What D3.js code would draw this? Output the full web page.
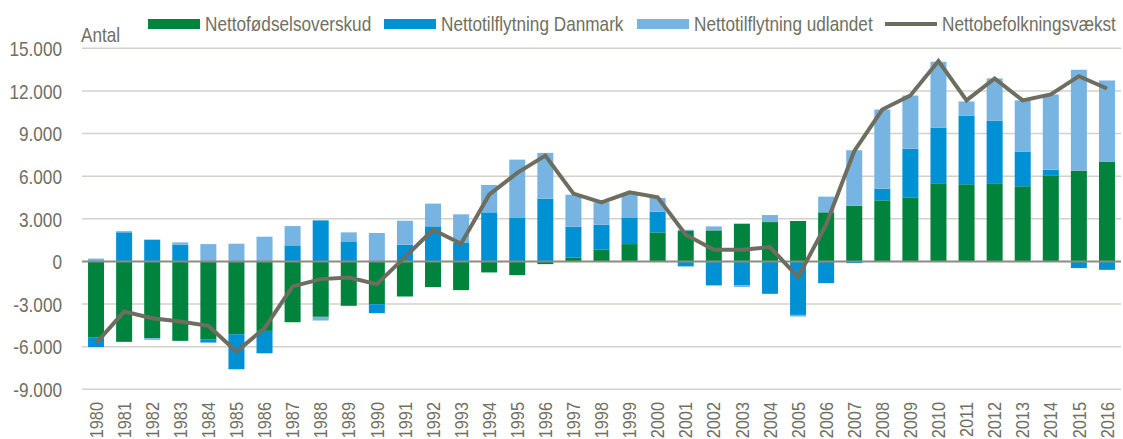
<!DOCTYPE html>
<html>
<head>
<meta charset="utf-8">
<script src="https://cdn.jsdelivr.net/npm/d3@7"></script>
<style>
  body { margin: 0; background: #fff; }
  svg text { font-family: "Liberation Sans", Arial, sans-serif; fill: #6f6f62; }
</style>
</head>
<body>
<script>
// data
var years = d3.range(1980, 2017);
var foedsel = [-5330, -5660, -5400, -5590, -5475, -5120, -4890, -4280, -3900, -3125, -3010,
  -2470, -1810, -2020, -775, -965, -190, 280, 845, 1220, 2045,
  2140, 2185, 2655, 2770, 2845, 3455, 3925, 4300, 4510, 5500,
  5430, 5500, 5290, 6060, 6390, 7000];
var danmark = [-700, 2050, 1530, 1175, -235, -2470, -1575, 1130, 2890, 1410, -635,
  1175, 2470, 1340, 3455, 3055, 4420, 2160, 1740, 1880, 1455,
  -350, -1690, -1690, -2280, -3765, -1530, -120, 820, 3430, 3900,
  4840, 4395, 2445, 400, -470, -590];
var udland = [200, 80, -120, 165, 1220, 1245, 1740, 1360, -260, 635, 2000,
  1690, 1600, 1975, 1930, 4110, 3220, 2255, 1575, 1700, 965,
  90, 280, -115, 495, -115, 1105, 3900, 5570, 3735, 4650,
  990, 2985, 3600, 5290, 7100, 5735];
var vaekst = [-5760, -3530, -4000, -4230, -4535, -6345, -4700, -1760, -1245, -1130, -1600,
  300, 2230, 1245, 4700, 6230, 7450, 4770, 4160, 4865, 4510,
  1880, 820, 820, 1010, -1100, 2600, 7755, 10690, 11680, 14100,
  11330, 12880, 11330, 11750, 13040, 12170];
var yTicks = [-9000, -6000, -3000, 0, 3000, 6000, 9000, 12000, 15000];

var serier = ["Nettofødselsoverskud", "Nettotilflytning Danmark", "Nettotilflytning udlandet"];
var farver = ["#00843d", "#0091d5", "#78b4e2"];
var linjeNavn = "Nettobefolkningsvækst";
var linjeFarve = "#6d6d60";

var W = 1123, H = 439;
var margin = {top: 48, right: 2, bottom: 50, left: 82};
var sx = 0.86; // narrow the font, the original uses a condensed face

var rows = years.map(function(y, i) {
  return {year: y, a: foedsel[i], b: danmark[i], c: udland[i]};
});

var stack = d3.stack().keys(["a", "b", "c"]).offset(d3.stackOffsetDiverging);
var layers = stack(rows);

var x = d3.scaleBand().domain(years).range([margin.left, W - margin.right]).paddingInner(0.43).paddingOuter(0.215);
var y = d3.scaleLinear().domain([-9000, 15000]).range([389.3, 48.3]);

var loc = d3.formatLocale({decimal: ",", thousands: ".", grouping: [3], currency: ["", ""], minus: "-"});
var fmt = loc.format(",d");

var svg = d3.select("body").append("svg").attr("width", W).attr("height", H);

// gridlines
svg.append("g").selectAll("line").data(yTicks.filter(function(d) { return d !== 0; }))
  .enter().append("line")
  .attr("x1", margin.left).attr("x2", W - 2)
  .attr("y1", function(d) { return y(d); }).attr("y2", function(d) { return y(d); })
  .attr("stroke", "#d2d2cb").attr("stroke-width", 1.6);

// y axis labels
var yAxis = d3.axisLeft(y).tickValues(yTicks).tickFormat(fmt).tickSize(0).tickPadding(0);
var ga = svg.append("g").attr("transform", "translate(62,0)").call(yAxis);
ga.select(".domain").remove();
ga.selectAll("text").attr("font-size", 20).attr("dy", "0.36em").attr("x", 0)
  .attr("transform", "scale(" + sx + ",1)")
  .style("font-family", "'Liberation Sans', Arial, sans-serif").attr("fill", "#6f6f62");

// bars
svg.append("g").selectAll("g").data(layers).enter().append("g")
  .attr("fill", function(d, i) { return farver[i]; })
  .selectAll("rect").data(function(d) { return d; }).enter().append("rect")
  .attr("x", function(d) { return x(d.data.year); })
  .attr("width", x.bandwidth())
  .attr("y", function(d) { return y(Math.max(d[0], d[1])); })
  .attr("height", function(d) { return Math.abs(y(d[0]) - y(d[1])); });

// zero line
svg.append("line").attr("x1", margin.left).attr("x2", W - 2)
  .attr("y1", y(0)).attr("y2", y(0)).attr("stroke", "#8c8c80").attr("stroke-width", 2);

// line
var line = d3.line().x(function(d, i) { return x(years[i]) + x.bandwidth() / 2; }).y(function(d) { return y(d); });
svg.append("path").datum(vaekst).attr("d", line).attr("fill", "none")
  .attr("stroke", linjeFarve).attr("stroke-width", 4).attr("stroke-linejoin", "miter");

// x axis labels
var xAxis = d3.axisBottom(x).tickSize(0).tickPadding(0);
var gx = svg.append("g").attr("transform", "translate(0,402)").call(xAxis);
gx.select(".domain").remove();
gx.selectAll("text").attr("font-size", 19)
  .attr("transform", "rotate(-90) scale(" + sx + ",1)").attr("text-anchor", "end")
  .attr("x", 0).attr("y", 0).attr("dx", "0").attr("dy", "0.35em")
  .style("font-family", "'Liberation Sans', Arial, sans-serif").attr("fill", "#6f6f62");

// unit label
svg.append("text").attr("transform", "translate(81,42) scale(" + sx + ",1)").attr("font-size", 20).text("Antal");

// legend
var leg = [
  {navn: serier[0], farve: farver[0], x: 148, type: "rect"},
  {navn: serier[1], farve: farver[1], x: 384, type: "rect"},
  {navn: serier[2], farve: farver[2], x: 637, type: "rect"},
  {navn: linjeNavn, farve: linjeFarve, x: 885, type: "line"}
];
var lg = svg.append("g").selectAll("g").data(leg).enter().append("g")
  .attr("transform", function(d) { return "translate(" + d.x + ",0)"; });
lg.filter(function(d) { return d.type === "rect"; }).append("rect")
  .attr("x", 0).attr("y", 19).attr("width", 52).attr("height", 10)
  .attr("fill", function(d) { return d.farve; });
lg.filter(function(d) { return d.type === "line"; }).append("line")
  .attr("x1", 0).attr("x2", 52).attr("y1", 24).attr("y2", 24)
  .attr("stroke", function(d) { return d.farve; }).attr("stroke-width", 4);
lg.append("text").attr("transform", "translate(57,31) scale(" + sx + ",1)").attr("font-size", 20)
  .text(function(d) { return d.navn; });
</script>
</body>
</html>
